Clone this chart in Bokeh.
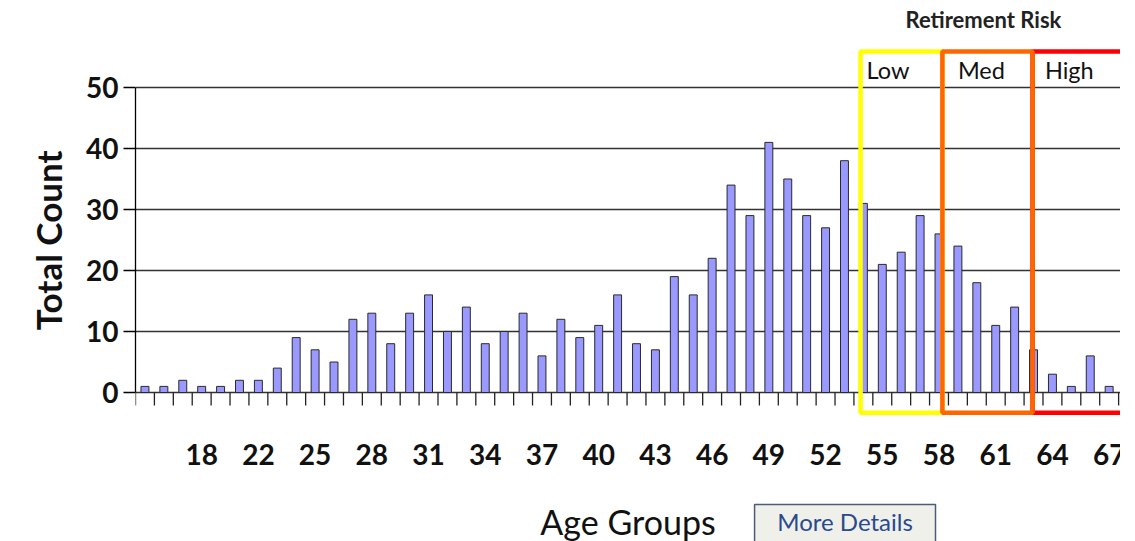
from bokeh.plotting import figure
from bokeh.models import Range1d, FixedTicker, LinearAxis, Title
from bokeh.embed import file_html
from bokeh.resources import INLINE
from bokeh.core.properties import value

# ---- data -------------------------------------------------------------
ages = [15, 16, 17, 18, 19, 21, 22, 23, 24, 25, 26, 27, 28, 29, 30, 31, 32, 33,
        34, 35, 36, 37, 38, 39, 40, 41, 42, 43, 44, 45, 46, 47, 48, 49, 50, 51,
        52, 53, 54, 55, 56, 57, 58, 59, 60, 61, 62, 63, 64, 65, 66, 67]
counts = [1, 1, 2, 1, 1, 2, 2, 4, 9, 7, 5, 12, 13, 8, 13, 16, 10, 14, 8, 10,
          13, 6, 12, 9, 11, 16, 8, 7, 19, 16, 22, 34, 29, 41, 35, 29, 27, 38,
          31, 21, 23, 29, 26, 24, 18, 11, 14, 7, 3, 1, 6, 1]
y_ticks = [0, 10, 20, 30, 40, 50]
risk_labels = ["Low", "Med", "High"]
risk_colors = ["#FFFF00", "#FF6600", "#FF0000"]
# band edges / label anchors expressed in category-index units
risk_left = [37.85, 42.18, 46.95]
risk_right = [42.18, 46.95, 52.8]
risk_label_x = [38.17, 43.0, 47.6]

FONT = "Lato"
idx = list(range(len(ages)))
PX = 6.1  # pixels per count unit (for small offsets below the axis)

p = figure(width=1120, height=541,
           x_range=Range1d(-0.5, 51.6), y_range=Range1d(-149 / PX, 392 / PX),
           output_backend="svg", toolbar_location=None,
           x_axis_location=None, y_axis_location=None,
           min_border_left=135, min_border_right=0,
           min_border_top=0, min_border_bottom=0)
p.outline_line_color = None
p.background_fill_color = "white"
p.border_fill_color = "white"

# grid (the 0 line doubles as the category axis line)
p.xgrid.visible = False
p.ygrid.ticker = FixedTicker(ticks=y_ticks)
p.ygrid.grid_line_color = "#333333"
p.ygrid.grid_line_width = 1.3

# bars
p.vbar(x=idx, top=counts, width=0.42, fill_color="#9999FF",
       line_color="#2a2a2a", line_width=1)

# category tick marks (between bars) and labels
bounds_x = [i - 0.5 for i in idx] + [idx[-1] + 0.5]
p.segment(x0=bounds_x, x1=bounds_x, y0=[0] * len(bounds_x),
          y1=[-13 / PX] * len(bounds_x), line_color="#222222", line_width=1.3)
major = idx[3::3]
p.text(x=major, y=[-62 / PX] * len(major), text=[str(ages[i]) for i in major],
       text_font=value(FONT), text_font_size="28px", text_font_style="bold",
       text_color="#111111", text_align="center", text_baseline="alphabetic")

# x axis title
p.text(x=[25.55], y=[-129 / PX], text=["Age Groups"], text_font=value(FONT),
       text_font_size="34px", text_color="#111111", text_align="center",
       text_baseline="alphabetic")

# risk boxes (yellow, red, then orange on top)
top_y, bot_y = 55.9, -3.3
for k in [0, 2, 1]:
    p.quad(left=[risk_left[k]], right=[risk_right[k]], top=[top_y], bottom=[bot_y],
           fill_alpha=0, line_color=risk_colors[k], line_width=4.5)
for k in range(3):
    p.text(x=[risk_label_x[k]], y=[52.8], text=[risk_labels[k]],
           text_font=value(FONT), text_font_size="23.5px", text_color="#111111",
           text_align="left", text_baseline="middle")

p.text(x=[44.35], y=[61.1], text=["Retirement Risk"], text_font=value(FONT),
       text_font_size="22px", text_font_style="bold", text_color="#222222",
       text_align="center", text_baseline="middle")

# "More Details" button
p.rect(x=[37.03], y=[-21.72], width=9.57, height=6.72, fill_color="#f0f0eb",
       line_color="#4d5a78", line_width=1.5)
p.text(x=[37.03], y=[-21.2], text=["More Details"], text_font=value(FONT),
       text_font_size="24px", text_color="#2a4a8e", text_align="center",
       text_baseline="middle")

# y axis
yax = LinearAxis(ticker=FixedTicker(ticks=y_ticks), bounds=(0, 50))
yax.major_label_text_font = FONT
yax.major_label_text_font_size = "28px"
yax.major_label_text_font_style = "bold"
yax.major_label_text_color = "#111111"
yax.major_label_standoff = 5
yax.major_tick_out = 12
yax.major_tick_in = 0
yax.minor_tick_out = 0
yax.minor_tick_in = 0
yax.axis_line_width = 1.3
yax.major_tick_line_width = 1.3
p.add_layout(yax, "left")

# y axis title, centred on the 0..50 span rather than the whole frame
ytitle = Title(text="Total Count", align="right", offset=150, standoff=30,
               text_font=FONT, text_font_size="35px", text_font_style="bold",
               text_color="#111111")
p.add_layout(ytitle, "left")

open("out.html", "w").write(file_html(p, INLINE))
